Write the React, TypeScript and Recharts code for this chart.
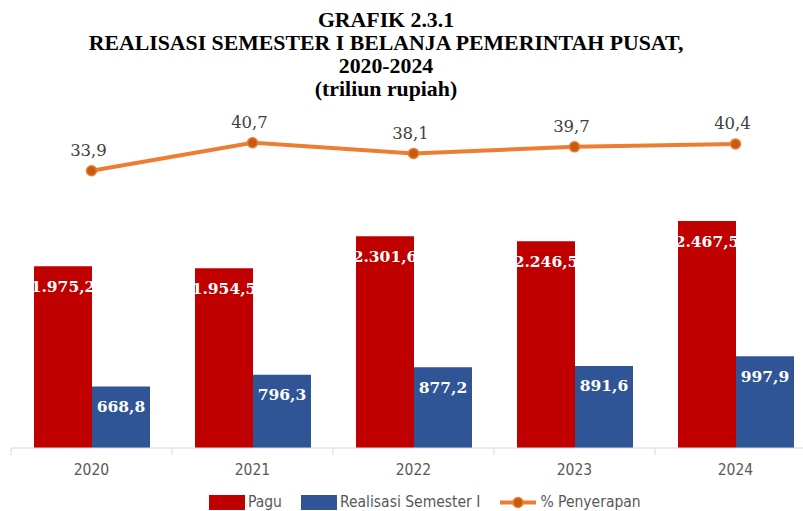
import {
  ComposedChart,
  Bar,
  Line,
  XAxis,
  YAxis,
  Legend,
  LabelList,
} from 'recharts'

const years = ['2020', '2021', '2022', '2023', '2024']
const pagu = [1975.2, 1954.5, 2301.6, 2246.5, 2467.5]
const realisasi = [668.8, 796.3, 877.2, 891.6, 997.9]
const penyerapan = [33.9, 40.7, 38.1, 39.7, 40.4]

const titleLines = [
  'GRAFIK 2.3.1',
  'REALISASI SEMESTER I BELANJA PEMERINTAH PUSAT,',
  '2020-2024',
  '(triliun rupiah)',
]

const RED = '#C00000'
const BLUE = '#2F5597'
const ORANGE = '#ED7D31'
const ORANGE_DARK = '#C55A11'
const GRAY = '#595959'
const SANS = '"Liberation Sans Narrow", "DejaVu Sans Condensed", Roboto, sans-serif'
const SERIF = '"DejaVu Serif", "Liberation Serif", serif'

const CHART_W = 830
const CHART_H = 511
const MARGIN = { top: 100, right: 14, left: 11, bottom: 0 }
const HALF_BAND = (CHART_W - MARGIN.left - MARGIN.right) / years.length / 2

const data = years.map((year, i) => ({
  year,
  pagu: pagu[i],
  realisasi: realisasi[i],
  penyerapan: penyerapan[i],
}))

// indonesian style: 1.975,2
function fmt(v: number) {
  const [int, dec] = v.toFixed(1).split('.')
  return int.replace(/\B(?=(\d{3})+(?!\d))/g, '.') + ',' + dec
}

function BarValue(props: any) {
  const { x, y, width, height, value, index, id } = props
  const clip = `clip-${id}-${index}`
  return (
    <g>
      <clipPath id={clip}>
        <rect x={x} y={y} width={width} height={height} />
      </clipPath>
      <text
        x={x + width / 2}
        y={y + 20}
        textAnchor="middle"
        dominantBaseline="central"
        fill="#fff"
        fontFamily={SERIF}
        fontWeight="bold"
        fontSize={15.5}
        clipPath={`url(#${clip})`}
      >
        {fmt(value)}
      </text>
    </g>
  )
}

function LineValue(props: any) {
  const { x, y, value } = props
  return (
    <text
      x={x - 3}
      y={y - 20}
      textAnchor="middle"
      dominantBaseline="central"
      fill="#404040"
      fontFamily={SERIF}
      fontSize={16.5}
    >
      {fmt(value)}
    </text>
  )
}

function YearTick(props: any) {
  const { x, y, payload, index } = props
  return (
    <g>
      <line x1={x - HALF_BAND} y1={y} x2={x - HALF_BAND} y2={y + 7} stroke="#D9D9D9" />
      {index === years.length - 1 && (
        <line x1={x + HALF_BAND} y1={y} x2={x + HALF_BAND} y2={y + 7} stroke="#D9D9D9" />
      )}
      <text
        x={x}
        y={y + 22}
        textAnchor="middle"
        dominantBaseline="central"
        fill={GRAY}
        fontFamily={SANS}
        fontSize={15.5}
      >
        {payload.value}
      </text>
    </g>
  )
}

function LegendBox() {
  const item = { display: 'flex', alignItems: 'center', marginRight: 19 }
  const swatch = { width: 36, height: 15, marginRight: 3 }
  return (
    <div
      style={{
        display: 'flex',
        height: 18,
        paddingLeft: 198,
        fontFamily: SANS,
        fontSize: 15.5,
        color: GRAY,
      }}
    >
      <div style={item}>
        <div style={{ ...swatch, background: RED }} />
        Pagu
      </div>
      <div style={item}>
        <div style={{ ...swatch, background: BLUE }} />
        Realisasi Semester I
      </div>
      <div style={item}>
        <svg width={38} height={15} style={{ marginRight: 3 }}>
          <line x1={1} y1={7.5} x2={37} y2={7.5} stroke={ORANGE} strokeWidth={4} />
          <circle cx={19} cy={7.5} r={5} fill={ORANGE_DARK} stroke={ORANGE} strokeWidth={1.5} />
        </svg>
        % Penyerapan
      </div>
    </div>
  )
}

export default function App() {
  return (
    <div
      style={{
        position: 'fixed',
        left: 0,
        top: 0,
        width: 803,
        height: 511,
        overflow: 'hidden',
        background: '#fff',
      }}
    >
      <div
        style={{
          position: 'absolute',
          left: 0,
          top: 9,
          width: 772,
          textAlign: 'center',
          fontFamily: '"Liberation Serif", serif',
          fontWeight: 'bold',
          fontSize: 21.8,
          lineHeight: '23px',
          color: '#000',
          zIndex: 1,
        }}
      >
        {titleLines.map((t) => (
          <div key={t}>{t}</div>
        ))}
      </div>
      <ComposedChart
        width={CHART_W}
        height={CHART_H}
        data={data}
        margin={MARGIN}
        barCategoryGap={23}
        barGap={0}
      >
        <XAxis
          dataKey="year"
          height={45}
          tickLine={false}
          tickSize={0}
          tickMargin={0}
          axisLine={{ stroke: '#D9D9D9' }}
          tick={<YearTick />}
          interval={0}
        />
        <YAxis yAxisId="left" hide domain={[0, 3783]} />
        <YAxis yAxisId="right" hide orientation="right" domain={[-33.44, 51.07]} />
        <Legend verticalAlign="bottom" content={<LegendBox />} />
        <Bar yAxisId="left" dataKey="pagu" name="Pagu" fill={RED} isAnimationActive={false}>
          <LabelList dataKey="pagu" content={<BarValue id="pagu" />} />
        </Bar>
        <Bar yAxisId="left" dataKey="realisasi" name="Realisasi Semester I" fill={BLUE} isAnimationActive={false}>
          <LabelList dataKey="realisasi" content={<BarValue id="realisasi" />} />
        </Bar>
        <Line
          yAxisId="right"
          dataKey="penyerapan"
          name="% Penyerapan"
          stroke={ORANGE}
          strokeWidth={4}
          dot={{ r: 5, fill: ORANGE_DARK, stroke: ORANGE, strokeWidth: 1.5 }}
          isAnimationActive={false}
        >
          <LabelList dataKey="penyerapan" content={<LineValue />} />
        </Line>
      </ComposedChart>
    </div>
  )
}
